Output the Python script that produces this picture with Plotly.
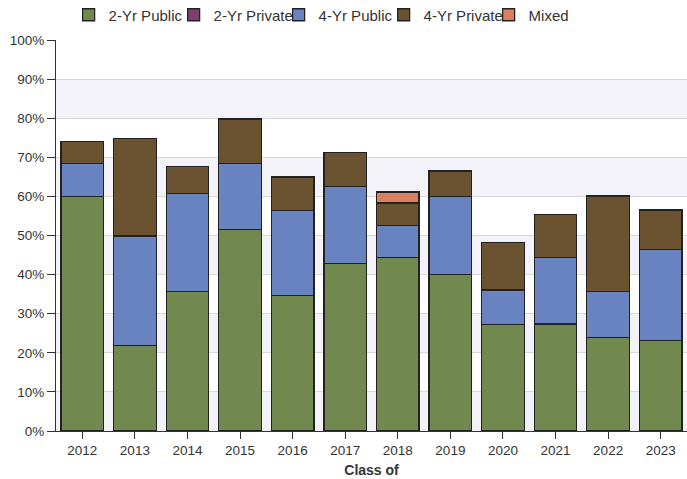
import plotly.graph_objects as go

years = ["2012", "2013", "2014", "2015", "2016", "2017", "2018", "2019", "2020", "2021", "2022", "2023"]
two_yr_public = [60.0, 21.8, 35.7, 51.6, 34.7, 42.9, 44.3, 40.1, 27.2, 27.4, 23.9, 23.2]
two_yr_private = [0, 0, 0, 0, 0, 0, 0, 0, 0, 0, 0, 0]
four_yr_public = [8.4, 28.1, 25.1, 16.8, 21.7, 19.7, 8.2, 19.9, 8.9, 16.9, 11.8, 23.3]
four_yr_private = [5.6, 24.9, 6.8, 11.4, 8.6, 8.6, 5.8, 6.5, 12.2, 11.1, 24.4, 10.0]
mixed = [0, 0, 0, 0, 0, 0, 2.8, 0, 0, 0, 0, 0]

y_ticks = [0, 10, 20, 30, 40, 50, 60, 70, 80, 90, 100]
y_tick_labels = [f"{v}%" for v in y_ticks]

series = [
    ("2-Yr Public", two_yr_public, "#71894f"),
    ("2-Yr Private", two_yr_private, "#7d3f70"),
    ("4-Yr Public", four_yr_public, "#6883c0"),
    ("4-Yr Private", four_yr_private, "#6b5230"),
    ("Mixed", mixed, "#d9805f"),
]

fig = go.Figure()
for name, vals, color in series:
    fig.add_trace(go.Bar(
        x=years, y=vals, name=name,
        marker=dict(color=color, line=dict(color="#222222", width=1.3)),
        width=0.81,
    ))

shapes = []
for lo in range(0, 100, 20):
    shapes.append(dict(type="rect", xref="paper", yref="y", x0=0, x1=1, y0=lo, y1=lo + 10,
                       fillcolor="#f2f2f8", line=dict(width=0), layer="below"))

fig.update_layout(
    barmode="stack",
    width=687, height=479,
    margin=dict(l=56, r=0, t=40, b=48, autoexpand=False),
    paper_bgcolor="white",
    plot_bgcolor="white",
    shapes=shapes,
    font=dict(family="Liberation Sans, Arial, sans-serif", color="#333333", size=13),
    legend=dict(
        orientation="h", x=0.02, xanchor="left", y=1.064, yanchor="middle",
        font=dict(size=15, color="#333333"),
        itemwidth=30, entrywidth=60, entrywidthmode="pixels",
        traceorder="normal",
    ),
    xaxis=dict(
        automargin=False,
        showline=True, linecolor="#333333", linewidth=1,
        ticks="outside", ticklen=7, tickcolor="#333333",
        tickfont=dict(size=13.5, color="#333333"),
        title=dict(text="<b>Class of</b>", font=dict(size=14, color="#333333"), standoff=7),
        range=[-0.5, 11.5],
    ),
    yaxis=dict(
        automargin=False,
        range=[0, 100], tickvals=y_ticks, ticktext=y_tick_labels,
        showline=True, linecolor="#333333", linewidth=1,
        ticks="outside", ticklen=8, tickcolor="#333333",
        tickfont=dict(size=13.5, color="#333333"),
        showgrid=True, gridcolor="#d8d8d8", gridwidth=1,
        zeroline=False,
    ),
)

fig.write_html(
    "out.html",
    config={"displayModeBar": False},
    post_script="document.body.style.margin='0';document.body.style.overflow='hidden';",
)
